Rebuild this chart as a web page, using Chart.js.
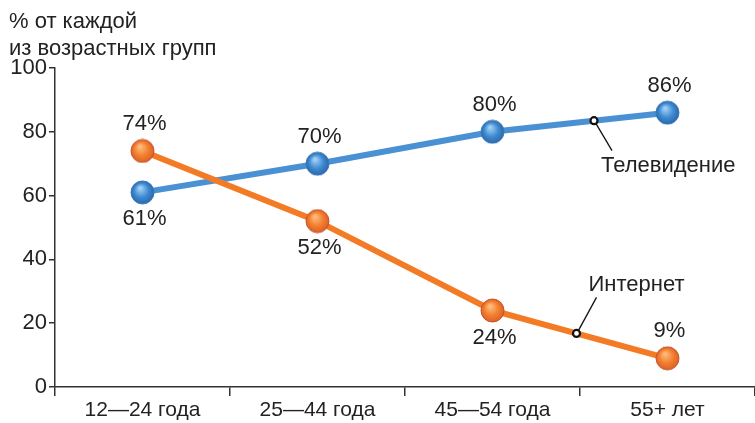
<!DOCTYPE html>
<html>
<head>
<meta charset="utf-8">
<script src="https://cdn.jsdelivr.net/npm/chart.js@4"></script>
<style>
  html, body { margin: 0; padding: 0; background: #fff; overflow: hidden; }
  #wrap { width: 755px; height: 423px; position: relative; }
</style>
</head>
<body>
<div id="wrap"><canvas id="chart"></canvas></div>
<script>
// Данные
const categories = ["12\u201424 года", "25\u201444 года", "45\u201454 года", "55+ лет"];
const tvValues = [61, 70, 80, 86];
const internetValues = [74, 52, 24, 9];
const yTicks = [0, 20, 40, 60, 80, 100];
const axisTitle = ["% от каждой", "из возрастных групп"];

// Размещение подписей значений (сверху/снизу точки)
const tvSide = ["below", "above", "above", "above"];
const internetSide = ["above", "below", "below", "above"];

const FONT = "'Liberation Sans', Arial, sans-serif";
const TEXT = "#222";
const AXIS = "#333";

// Шарик для точек
function makeBall(light, mid, dark, rim) {
  const c = document.createElement("canvas");
  c.width = 25;
  c.height = 25;
  const g = c.getContext("2d");
  const grad = g.createRadialGradient(10, 8, 1, 12.5, 12.5, 12);
  grad.addColorStop(0, light);
  grad.addColorStop(0.55, mid);
  grad.addColorStop(1, dark);
  g.beginPath();
  g.arc(12.5, 12.5, 11.5, 0, Math.PI * 2);
  g.fillStyle = grad;
  g.fill();
  g.lineWidth = 1;
  g.strokeStyle = rim;
  g.stroke();
  return c;
}
const blueBall = makeBall("#9fd0f5", "#3f8bd2", "#2a66a8", "#3a78bb");
const orangeBall = makeBall("#fdbb7c", "#f37f2e", "#d8602a", "#c9532c");

// Подписи-выноски серий: позиция на линии (дробный индекс категории)
const callouts = [
  { text: "Телевидение", series: tvValues, at: 2.58, dx: 18, dy: 30, tx: 7, ty: 45 },
  { text: "Интернет", series: internetValues, at: 2.48, dx: 20, dy: -36, tx: 12, ty: -48 },
];

const labelsPlugin = {
  id: "labels",
  afterDatasetsDraw(chart) {
    const ctx = chart.ctx;
    const xs = chart.scales.x;
    const ys = chart.scales.y;
    ctx.save();
    ctx.fillStyle = TEXT;
    ctx.font = "22px " + FONT;
    ctx.textAlign = "center";
    ctx.textBaseline = "middle";
    const sets = [
      [internetValues, internetSide],
      [tvValues, tvSide],
    ];
    sets.forEach(([vals, side]) => {
      vals.forEach((v, i) => {
        const x = xs.getPixelForValue(i);
        const y = ys.getPixelForValue(v);
        ctx.fillText(v + "%", x + 2, side[i] === "above" ? y - 27 : y + 27);
      });
    });

    // выноски
    callouts.forEach((c) => {
      const i0 = Math.floor(c.at);
      const f = c.at - i0;
      const v = c.series[i0] + f * (c.series[i0 + 1] - c.series[i0]);
      const x = xs.getPixelForValue(c.at);
      const y = ys.getPixelForValue(v);
      ctx.beginPath();
      ctx.moveTo(x + 2, y + (c.dy > 0 ? 3 : -3));
      ctx.lineTo(x + c.dx, y + c.dy);
      ctx.strokeStyle = "#111";
      ctx.lineWidth = 1.3;
      ctx.stroke();
      ctx.beginPath();
      ctx.arc(x, y, 3.5, 0, Math.PI * 2);
      ctx.fillStyle = "#fff";
      ctx.fill();
      ctx.lineWidth = 2.2;
      ctx.stroke();
      ctx.fillStyle = TEXT;
      ctx.font = "22px " + FONT;
      ctx.textAlign = "left";
      ctx.fillText(c.text, x + c.tx, y + c.ty);
    });

    // заголовок оси
    ctx.font = "22px " + FONT;
    ctx.textAlign = "left";
    ctx.textBaseline = "alphabetic";
    ctx.fillText(axisTitle[0], 9, 28);
    ctx.fillText(axisTitle[1], 9, 55);
    ctx.restore();
  },
};

new Chart(document.getElementById("chart").getContext("2d"), {
  type: "line",
  data: {
    labels: categories,
    datasets: [
      {
        label: "Интернет",
        data: internetValues,
        borderColor: "#f47b25",
        borderWidth: 6,
        pointStyle: orangeBall,
        tension: 0,
      },
      {
        label: "Телевидение",
        data: tvValues,
        borderColor: "#4a91d3",
        borderWidth: 6,
        pointStyle: blueBall,
        tension: 0,
      },
    ],
  },
  options: {
    responsive: true,
    maintainAspectRatio: false,
    animation: false,
    events: [],
    layout: { autoPadding: false, padding: { top: 68, left: 0, right: 0, bottom: 0 } },
    plugins: {
      legend: { display: false },
      tooltip: { enabled: false },
    },
    scales: {
      x: {
        offset: true,
        grid: {
          offset: true,
          drawOnChartArea: false,
          tickLength: 9,
          color: AXIS,
          lineWidth: 1.5,
        },
        border: { color: AXIS, width: 1.5 },
        ticks: {
          color: TEXT,
          font: { family: FONT, size: 21 },
          padding: 2,
          maxRotation: 0,
        },
        afterFit(scale) {
          scale.height = 36;
        },
      },
      y: {
        min: 0,
        max: 100,
        afterBuildTicks(scale) {
          scale.ticks = yTicks.map((v) => ({ value: v }));
        },
        grid: {
          drawOnChartArea: false,
          tickLength: 6,
          color: AXIS,
          lineWidth: 1.5,
        },
        border: { color: AXIS, width: 1.5 },
        ticks: {
          color: TEXT,
          font: { family: FONT, size: 22 },
          padding: 2,
        },
        afterFit(scale) {
          scale.width = 55;
        },
      },
    },
  },
  plugins: [labelsPlugin],
});
</script>
</body>
</html>
